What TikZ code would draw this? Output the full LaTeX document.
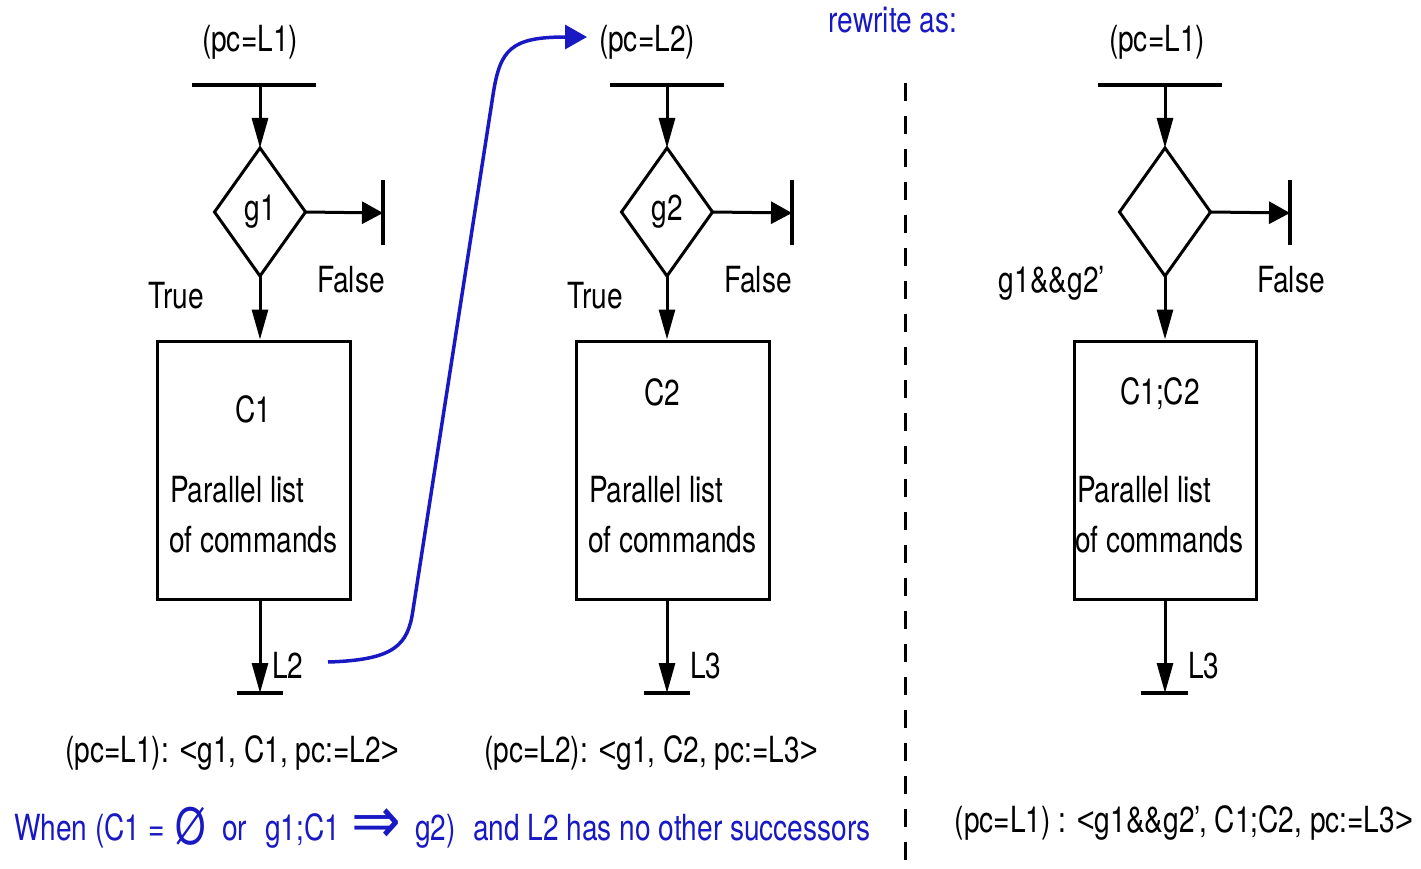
\documentclass[tikz,border=0pt]{standalone}
\usepackage{fontspec}
\setmainfont[FakeStretch=0.78]{TeX Gyre Heros}
\newfontfamily\arrowfont[FakeStretch=0.9]{DejaVu Sans}
\newfontfamily\relfont[FakeStretch=0.85]{Liberation Sans}
\newcommand{\lt}{{\relfont<}}
\newcommand{\gt}{{\relfont>}}
\usetikzlibrary{arrows.meta,shapes.geometric}
\definecolor{penblue}{RGB}{25,25,195}
\begin{document}
\begin{tikzpicture}[x=1pt,y=-1pt,
  line width=3pt,
  txt/.style={font=\fontsize{36}{40}\selectfont, inner sep=0pt, outer sep=0pt},
  lbl/.style={txt, anchor=base},
  lblw/.style={txt, anchor=base west},
  guard/.style={draw, diamond, minimum width=91pt, minimum height=128pt, inner sep=0pt, txt},
  cmdbox/.style={draw, rectangle, inner sep=0pt},
  varrow/.style={-{Triangle[length=30pt,width=16pt]}},
  harrow/.style={-{Triangle[length=21pt,width=22pt]}},
  bar/.style={line width=3.5pt},
  flow/.style={penblue, line width=3.5pt},
]
\useasboundingbox (0,0) rectangle (1421,869);

% ---------- first guarded command ----------
\coordinate (in1) at (260,85);
\draw[bar] (192,85) -- (316,85);
\node[lbl] (pc1) at (250,52) {(pc=L1)};
\node[guard] (d1) at (260,212) {g1};
\draw[varrow] (in1) -- (d1.north);
\coordinate (stop1) at (383,213);
\draw[harrow] (d1.east) -- (stop1);
\draw[bar] (383,180) -- (383,245);
\node[lbl] (t1) at (176,308) {True};
\node[lbl] (f1) at (351,292) {False};
\node[cmdbox, minimum width=193pt, minimum height=258pt] (b1) at (253.5,470) {};
\draw[varrow] (d1.south) -- (d1.south |- b1.north);
\node[lbl] (c1) at (253,422) {C1};
\node[lblw] (p1a) at (170,502) {Parallel list};
\node[lblw] (p1b) at (169,552) {of commands};
\coordinate (out1) at (260,693);
\draw[varrow] (b1.south -| d1) -- (out1);
\draw[bar] (237,693) -- (283,693);
\node[lblw] (l2) at (272,678) {L2};
\node[lbl] (r1) at (232,762) {(pc=L1): \lt g1, C1, pc:=L2\gt};

% ---------- second guarded command ----------
\coordinate (in2) at (667,85);
\draw[bar] (610,85) -- (724,85);
\node[lbl] (pc2) at (647,52) {(pc=L2)};
\node[guard] (d2) at (667,212) {g2};
\draw[varrow] (in2) -- (d2.north);
\coordinate (stop2) at (792,213);
\draw[harrow] (d2.east) -- (stop2);
\draw[bar] (792,180) -- (792,245);
\node[lbl] (t2) at (595,308) {True};
\node[lbl] (f2) at (758,292) {False};
\node[cmdbox, minimum width=193pt, minimum height=258pt] (b2) at (672.5,470) {};
\draw[varrow] (d2.south) -- (d2.south |- b2.north);
\node[lbl] (c2) at (662,405) {C2};
\node[lblw] (p2a) at (589,502) {Parallel list};
\node[lblw] (p2b) at (588,552) {of commands};
\coordinate (out2) at (667,693);
\draw[varrow] (b2.south -| d2) -- (out2);
\draw[bar] (644,693) -- (690,693);
\node[lblw] (l3a) at (690,678) {L3};
\node[lbl] (r2) at (651,762) {(pc=L2): \lt g1, C2, pc:=L3\gt};

% ---------- link from L2 to the second command ----------
\coordinate (linkA) at (328,662);
\coordinate (linkB) at (587,37);
\draw[flow, -{Triangle[length=22pt,width=24pt]}]
  (linkA) .. controls (395,660) and (408,645) .. (413,610)
  -- (493,95) .. controls (500,50) and (510,37) .. (linkB);

% ---------- separator ----------
\draw[line width=3pt, dash pattern=on 18pt off 15pt] (905,83) -- (905,869);
\node[lbl, text=penblue] (rw) at (893,33) {rewrite as:};

% ---------- merged command ----------
\coordinate (in3) at (1165,85);
\draw[bar] (1098,85) -- (1222,85);
\node[lbl] (pc3) at (1157,52) {(pc=L1)};
\node[guard] (d3) at (1165,212) {};
\draw[varrow] (in3) -- (d3.north);
\coordinate (stop3) at (1290,213);
\draw[harrow] (d3.east) -- (stop3);
\draw[bar] (1290,180) -- (1290,245);
\node[lbl] (t3) at (1052,292) {g1\&\&g2’};
\node[lbl] (f3) at (1291,292) {False};
\node[cmdbox, minimum width=182pt, minimum height=258pt] (b3) at (1165,470) {};
\draw[varrow] (d3.south) -- (b3.north);
\node[lbl] (c3) at (1160,404) {C1;C2};
\node[lblw] (p3a) at (1077,502) {Parallel list};
\node[lblw] (p3b) at (1075,552) {of commands};
\coordinate (out3) at (1165,693);
\draw[varrow] (b3.south) -- (out3);
\draw[bar] (1141,693) -- (1188,693);
\node[lblw] (l3b) at (1188,678) {L3};
\node[lbl] (r3) at (1184,832) {(pc=L1) : \lt g1\&\&g2’, C1;C2, pc:=L3\gt};

% ---------- side condition ----------
\begin{scope}[every node/.append style={text=penblue}]
\node[lblw] (w1) at (14,840) {When (C1 =};
\node[txt, font=\fontsize{50}{50}\selectfont] (w2) at (191,826) {Ø};
\node[lblw] (w3) at (222,840) {or};
\node[lblw] (w4) at (265,840) {g1;C1};
\node[txt, font=\fontsize{66}{66}\arrowfont] (w5) at (376,826) {⇒};
\node[lblw] (w6) at (415,840) {g2)};
\node[lblw] (w7) at (473,840) {and L2 has no other successors};
\end{scope}
\end{tikzpicture}
\end{document}
